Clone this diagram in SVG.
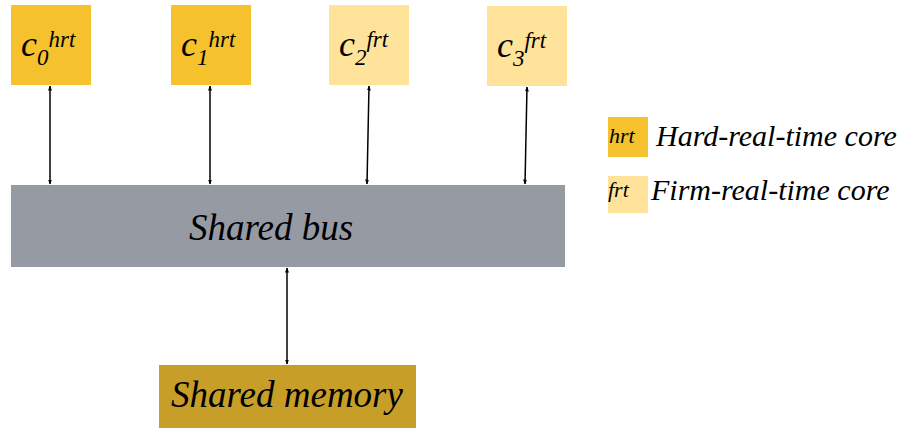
<svg xmlns="http://www.w3.org/2000/svg" width="902" height="428" viewBox="0 0 902 428">
<defs>
<marker id="ah" viewBox="0 0 10 10" refX="9" refY="5" markerWidth="5" markerHeight="5" orient="auto-start-reverse" markerUnits="userSpaceOnUse">
<path d="M0,1 L10,5 L0,9 z" fill="#000"/>
</marker>
</defs>
<g id="c0"><rect fill="#F5C22D" x="11" y="5" width="80" height="80"/>
<text font-family="Liberation Serif" font-style="italic" x="21" y="56" font-size="36">c<tspan font-size="23" dy="9">0</tspan><tspan font-size="23" dy="-18">hrt</tspan></text></g>
<g id="c1"><rect fill="#F5C22D" x="171" y="5" width="80" height="80"/>
<text font-family="Liberation Serif" font-style="italic" x="181" y="56" font-size="36">c<tspan font-size="23" dy="9">1</tspan><tspan font-size="23" dy="-18">hrt</tspan></text></g>
<g id="c2"><rect fill="#FFE39A" x="329" y="5" width="80" height="80"/>
<text font-family="Liberation Serif" font-style="italic" x="339" y="56" font-size="36">c<tspan font-size="23" dy="9">2</tspan><tspan font-size="23" dy="-18">frt</tspan></text></g>
<g id="c3"><rect fill="#FFE39A" x="487" y="6" width="80" height="80"/>
<text font-family="Liberation Serif" font-style="italic" x="497" y="57" font-size="36">c<tspan font-size="23" dy="9">3</tspan><tspan font-size="23" dy="-18">frt</tspan></text></g>
<g id="bus"><rect x="11" y="185" width="554" height="82" fill="#959AA3"/>
<text font-family="Liberation Serif" font-style="italic" x="271" y="240" font-size="37" text-anchor="middle">Shared bus</text></g>
<g id="memory"><rect x="159" y="365" width="257" height="63" fill="#C79F28"/>
<text font-family="Liberation Serif" font-style="italic" x="287" y="407" font-size="37" text-anchor="middle">Shared memory</text></g>
<g id="legend-hrt"><rect fill="#F5C22D" x="608" y="117" width="40" height="40"/>
<text font-family="Liberation Serif" font-style="italic" x="609" y="143" font-size="22">hrt</text>
<text font-family="Liberation Serif" font-style="italic" x="656" y="146" font-size="30">Hard-real-time core</text></g>
<g id="legend-frt"><rect fill="#FFE39A" x="608" y="176" width="40" height="37"/>
<text font-family="Liberation Serif" font-style="italic" x="608" y="197" font-size="22">frt</text>
<text font-family="Liberation Serif" font-style="italic" x="651" y="200" font-size="30">Firm-real-time core</text></g>
<g id="connectors" stroke="#000" stroke-width="1.5" fill="none" marker-start="url(#ah)" marker-end="url(#ah)">
<line x1="50" y1="86" x2="50" y2="184"/>
<line x1="210" y1="86" x2="210" y2="184"/>
<line x1="369" y1="86" x2="367" y2="184"/>
<line x1="527" y1="87" x2="525" y2="184"/>
<line x1="287" y1="268" x2="287" y2="364"/>
</g>
</svg>
